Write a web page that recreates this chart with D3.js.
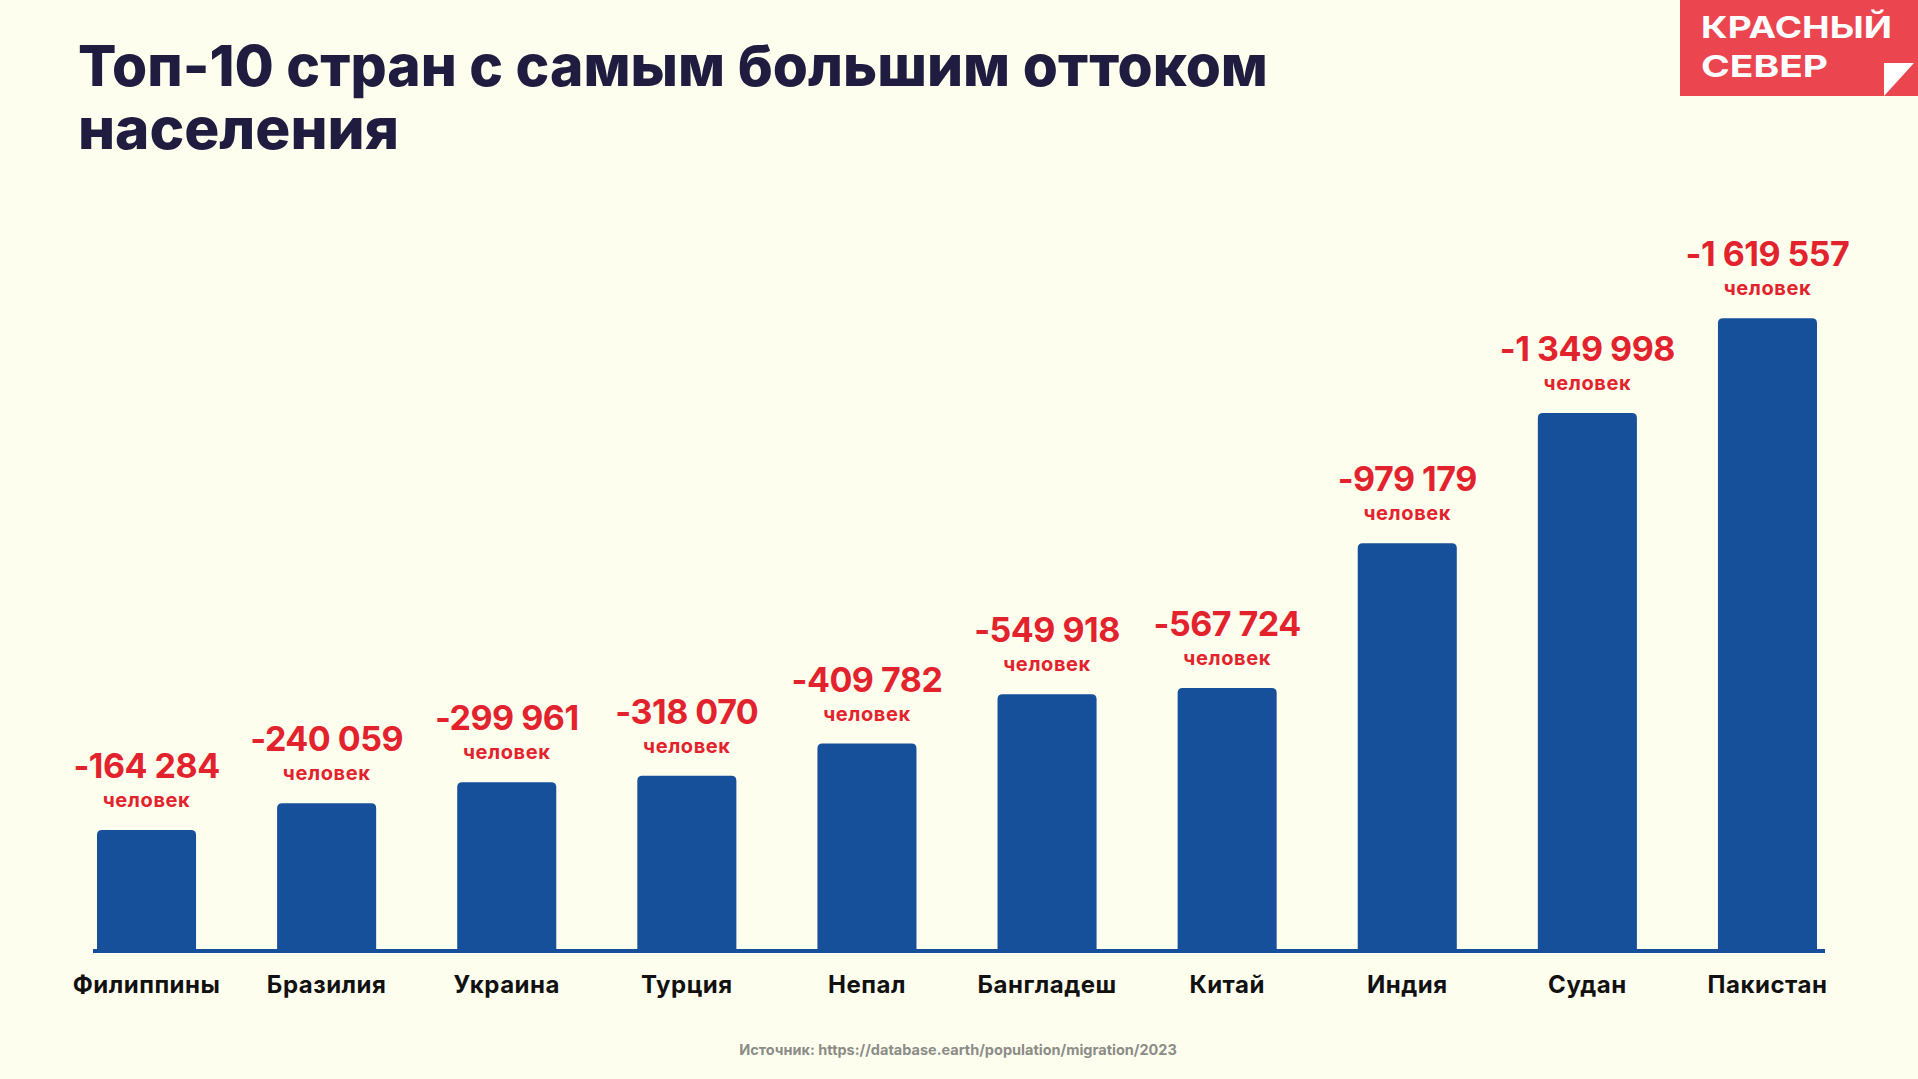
<!DOCTYPE html>
<html><head><meta charset="utf-8">
<script src="https://cdn.jsdelivr.net/npm/d3@7"></script>
<style>
html,body{margin:0;padding:0;background:#fefeee;}
svg{display:block;}
text{font-family:Inter,"Open Sans",sans-serif;}
</style></head>
<body><svg id="c" width="1918" height="1079"></svg>
<script>
const countries = ["Филиппины","Бразилия","Украина","Турция","Непал","Бангладеш","Китай","Индия","Судан","Пакистан"];
const outflow = [164284, 240059, 299961, 318070, 409782, 549918, 567724, 979179, 1349998, 1619557];
const unitLabel = "человек";
const titleLines = ["Топ-10 стран с самым большим оттоком","населения"];
const logoLines = ["КРАСНЫЙ","СЕВЕР"];
const sourceText = "Источник: https://database.earth/population/migration/2023";

const svg = d3.select("#c");
const W = 1918, H = 1079;
svg.append("rect").attr("width",W).attr("height",H).attr("fill","#fefeee");

const baseY = 951;
const x = d3.scaleBand().domain(countries).range([97, 1817]).paddingInner(0.45).paddingOuter(0);
const y = d3.scaleLinear().domain([-180000, 1620000]).range([baseY, 318]);

// title
svg.append("g").selectAll("text").data(titleLines).join("text")
  .attr("x", 78).attr("y", (d,i) => 86 + i*63)
  .attr("font-size", 57).attr("font-weight", 800).attr("fill", "#1f1c3f")
  .attr("textLength", (d,i) => i===0 ? 1190 : 321).attr("lengthAdjust","spacingAndGlyphs")
  .text(d => d);

// logo
svg.append("rect").attr("x",1680).attr("y",0).attr("width",238).attr("height",96).attr("fill","#eb4550");
svg.append("g").selectAll("text").data(logoLines).join("text")
  .attr("x", 1701).attr("y", (d,i) => 38 + i*39)
  .attr("font-size", 30).attr("font-weight", 700).attr("fill", "#ffffff")
  .attr("textLength", (d,i) => i===0 ? 191 : 127).attr("lengthAdjust","spacingAndGlyphs")
  .text(d => d);
svg.append("path").attr("d","M1884,63 L1914,63 L1884,96 Z").attr("fill","#ffffff");

// bars
const r = 5;
const barPath = d => {
  const x0 = x(d.c), x1 = x0 + x.bandwidth(), y0 = y(d.v), yb = baseY + 1;
  return `M${x0},${yb} L${x0},${y0+r} Q${x0},${y0} ${x0+r},${y0} L${x1-r},${y0} Q${x1},${y0} ${x1},${y0+r} L${x1},${yb} Z`;
};
const data = countries.map((c,i) => ({c, v: outflow[i]}));
svg.append("g").selectAll("path").data(data).join("path")
  .attr("d", barPath).attr("fill", "#17509a");

// baseline
svg.append("line").attr("x1", 93).attr("x2", 1825).attr("y1", baseY).attr("y2", baseY)
  .attr("stroke", "#17509a").attr("stroke-width", 4);

// value labels
const cx = d => x(d.c) + x.bandwidth()/2;
svg.append("g").selectAll("text").data(data).join("text")
  .attr("x", cx).attr("y", d => y(d.v) - 52)
  .attr("text-anchor","middle").attr("font-size", 34).attr("font-weight", 700)
  .attr("letter-spacing", -0.5).attr("fill", "#e2232d")
  .text(d => "-" + d3.format(",")(d.v).replace(/,/g, " "));
svg.append("g").selectAll("text").data(data).join("text")
  .attr("x", cx).attr("y", d => y(d.v) - 23)
  .attr("text-anchor","middle").attr("font-size", 20).attr("font-weight", 700)
  .attr("letter-spacing", 0.6).attr("fill", "#e2232d")
  .text(unitLabel);

// category axis
const xAxis = d3.axisBottom(x).tickSize(0).tickPadding(0);
const ax = svg.append("g").attr("transform", `translate(0,${baseY+42})`).call(xAxis);
ax.select(".domain").remove();
ax.selectAll("text").attr("font-size", 24).attr("font-weight", 700).attr("fill", "#111111")
  .attr("letter-spacing", 0.5)
  .attr("font-family","Inter,sans-serif").attr("dy", 0);

// source
svg.append("text").attr("x", 958).attr("y", 1055).attr("text-anchor","middle")
  .attr("font-size", 14.5).attr("font-weight", 700).attr("fill", "#8c8c88")
  .text(sourceText);
</script></body></html>
